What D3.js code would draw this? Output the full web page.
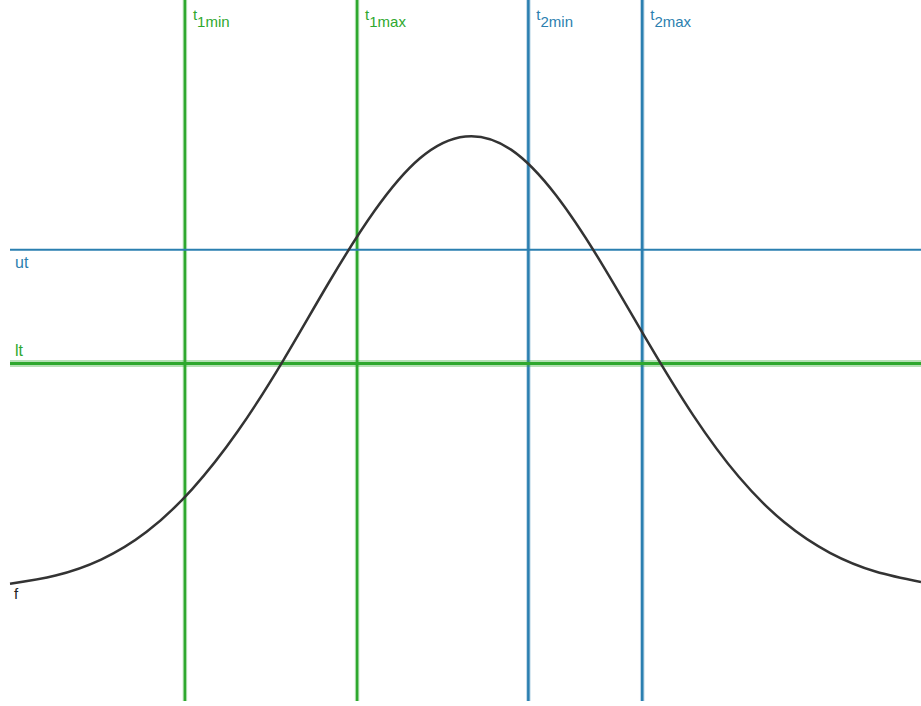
<!DOCTYPE html>
<html>
<head>
<meta charset="utf-8">
<script src="https://cdn.jsdelivr.net/npm/d3@7"></script>
<style>
  html, body { margin: 0; padding: 0; background: #fff; }
  svg { display: block; font-family: "Liberation Sans", Arial, sans-serif; }
</style>
</head>
<body>
<svg id="chart" width="921" height="706"></svg>
<script>
// Signal f over time (percent of peak)
const curveT = [0, 5, 10, 15, 20, 25, 30, 35, 40, 45, 50, 55, 60, 65, 70, 75, 80, 85, 90, 95, 100];
const curveF = [1.6, 3.4, 6.9, 13.0, 22.4, 35.1, 50.7, 67.8, 83.5, 95.1, 99.9, 97.0, 86.8, 71.8, 54.8, 38.6, 25.1, 15.1, 8.4, 4.3, 2.0];

// Threshold levels (percent of peak)
const thresholdNames = ["ut", "lt"];
const thresholdValues = [75, 50];

// Time window markers
const markerNames = ["1min", "1max", "2min", "2max"];
const markerTimes = [19.2, 38.1, 56.9, 69.4];
const markerGroups = [1, 1, 2, 2];

const green = "#2ea82e";
const blue = "#2b7fb0";

const svg = d3.select("#chart");
const W = 921;

const x = d3.scaleLinear().domain([0, 100]).range([10, 921]);
const y = d3.scaleLinear().domain([0, 100]).range([591, 136]);

const points = curveT.map((t, i) => [t, curveF[i]]);

// Vertical time markers
markerTimes.forEach((t, i) => {
  const col = markerGroups[i] === 1 ? green : blue;
  const px = x(t);
  svg.append("line")
    .attr("x1", px).attr("x2", px)
    .attr("y1", 0).attr("y2", 701)
    .attr("stroke", col).attr("stroke-opacity", 0.3).attr("stroke-width", 4.5);
  svg.append("line")
    .attr("x1", px).attr("x2", px)
    .attr("y1", 0).attr("y2", 701)
    .attr("stroke", col).attr("stroke-width", 2.5);
  const lbl = svg.append("text")
    .attr("x", px + 8).attr("y", 20)
    .attr("fill", col).attr("font-size", 15);
  lbl.append("tspan").text("t");
  lbl.append("tspan").attr("dy", 7).text(markerNames[i]);
});

// Horizontal thresholds
thresholdNames.forEach((name, i) => {
  const py = y(thresholdValues[i]);
  const col = name === "ut" ? blue : green;
  if (name === "lt") {
    svg.append("line")
      .attr("x1", 10).attr("x2", W)
      .attr("y1", py).attr("y2", py)
      .attr("stroke", col).attr("stroke-opacity", 0.35).attr("stroke-width", 7);
  }
  svg.append("line")
    .attr("x1", 10).attr("x2", W)
    .attr("y1", py).attr("y2", py)
    .attr("stroke", col).attr("stroke-width", name === "lt" ? 3 : 2);
  svg.append("text")
    .attr("x", 15)
    .attr("y", name === "ut" ? py + 18 : py - 8)
    .attr("fill", col).attr("font-size", 16)
    .text(name);
});

// Curve f
const line = d3.line()
  .x(d => x(d[0]))
  .y(d => y(d[1]))
  .curve(d3.curveNatural);

svg.append("path")
  .datum(points)
  .attr("d", line)
  .attr("fill", "none")
  .attr("stroke", "#333")
  .attr("stroke-width", 2.5);

svg.append("text")
  .attr("x", 14).attr("y", y(curveF[0]) + 15)
  .attr("fill", "#222").attr("font-size", 15)
  .text("f");
</script>
</body>
</html>
